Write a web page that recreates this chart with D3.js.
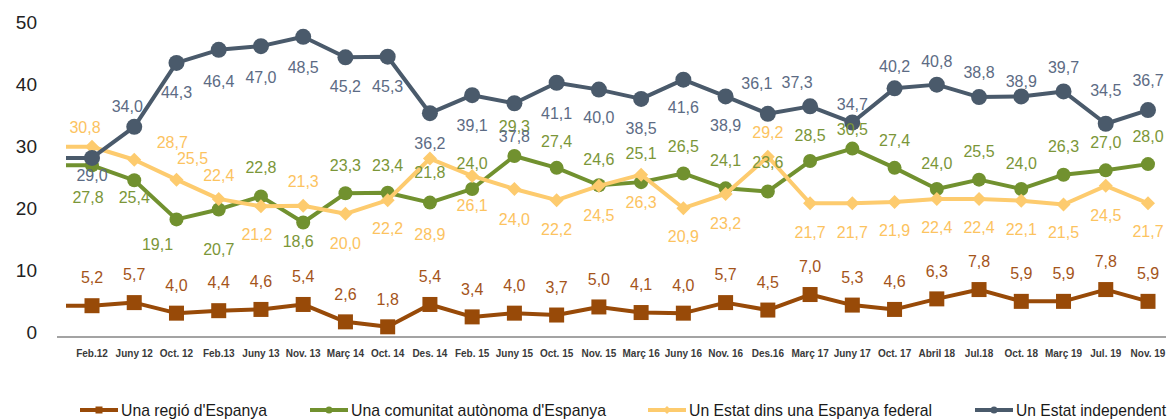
<!DOCTYPE html>
<html>
<head>
<meta charset="utf-8">
<script src="https://cdn.jsdelivr.net/npm/d3@7/dist/d3.min.js"></script>
<style>
  body { margin: 0; background: #fff; }
  svg { display: block; font-family: "Liberation Sans", Arial, sans-serif; }
</style>
</head>
<body>
<div class="viz"></div>
<script>
/* data */
var periods = ['Feb.12', 'Juny 12', 'Oct. 12', 'Feb.13', 'Juny 13', 'Nov. 13', 'Març 14', 'Oct. 14',
  'Des. 14', 'Feb. 15', 'Juny 15', 'Oct. 15', 'Nov. 15', 'Març 16', 'Juny 16', 'Nov. 16', 'Des.16',
  'Març 17', 'Juny 17', 'Oct. 17', 'Abril 18', 'Jul.18', 'Oct. 18', 'Març 19', 'Jul. 19', 'Nov. 19']

var regio = [5.2, 5.7, 4.0, 4.4, 4.6, 5.4, 2.6, 1.8, 5.4, 3.4, 4.0, 3.7, 5.0, 4.1, 4.0, 5.7, 4.5,
  7.0, 5.3, 4.6, 6.3, 7.8, 5.9, 5.9, 7.8, 5.9]
var comunitat = [27.8, 25.4, 19.1, 20.7, 22.8, 18.6, 23.3, 23.4, 21.8, 24.0, 29.3, 27.4, 24.6, 25.1,
  26.5, 24.1, 23.6, 28.5, 30.5, 27.4, 24.0, 25.5, 24.0, 26.3, 27.0, 28.0]
var federal = [30.8, 28.7, 25.5, 22.4, 21.2, 21.3, 20.0, 22.2, 28.9, 26.1, 24.0, 22.2, 24.5, 26.3,
  20.9, 23.2, 29.2, 21.7, 21.7, 21.9, 22.4, 22.4, 22.1, 21.5, 24.5, 21.7]
var independent = [29.0, 34.0, 44.3, 46.4, 47.0, 48.5, 45.2, 45.3, 36.2, 39.1, 37.8, 41.1, 40.0, 38.5,
  41.6, 38.9, 36.1, 37.3, 34.7, 40.2, 40.8, 38.8, 38.9, 39.7, 34.5, 36.7]

var yTicks = [0, 10, 20, 30, 40, 50]

/* label placement (layout only) */
var dyRegio = periods.map(function(){ return -28 })
var dyComunitat = [32, 17, 25, 40, -29, 19, -28, -27, -30, -26, -30, -27, -26, -29, -27, -28, -29,
  -26, -19, -28, -26, -28, -26, -28, -28, -28]
var dyFederal = [-19, -18, -21, -24, 28, -24, 29, 28, 76, 29, 30, 29, 29, 28, 28, 29, -24, 29, 29,
  28, 28, 28, 28, 28, 29, 28]
var dyIndependent = [17, -21, 29, 31, 31, 30, 29, 30, 30, 30, 33, 30, 28, 29, 28, 29, -31, -24, -18,
  -22, -23, -25, -15, -24, -34, -30]
var dxComunitat = {0: -4, 2: -19, 5: -5}
var dxFederal = {0: -7, 1: 38, 2: 16, 4: -4}
var dxIndependent = {1: -7, 16: -11, 17: -13}

var series = [
  {name: "Una regió d'Espanya", values: regio, color: '#984a08', label: '#a4541a',
    shape: 'square', dy: dyRegio, dx: {}},
  {name: "Una comunitat autònoma d'Espanya", values: comunitat, color: '#71912f', label: '#7b9638',
    shape: 'circle', dy: dyComunitat, dx: dxComunitat},
  {name: 'Un Estat dins una Espanya federal', values: federal, color: '#fdcb6e', label: '#fcc35f',
    shape: 'diamond', dy: dyFederal, dx: dxFederal},
  {name: 'Un Estat independent', values: independent, color: '#4a5a6b', label: '#5c6b84',
    shape: 'circleBig', dy: dyIndependent, dx: dxIndependent}
]

var width = 1175,
    height = 419

var svg = d3.select('.viz').append('svg')
  .attr('width', width)
  .attr('height', height)

var x = d3.scalePoint()
  .domain(periods)
  .range([92, 1148])

var y = d3.scaleLinear()
  .domain([0, 50])
  .range([338, 27.5])

// y axis labels (no gridlines)
svg.append('g')
  .selectAll('text')
  .data(yTicks)
  .enter()
  .append('text')
  .attr('x', 37)
  .attr('y', function(d){ return y(d) + 1 })
  .attr('text-anchor', 'end')
  .attr('font-size', '19px')
  .attr('fill', '#222')
  .text(function(d){ return d })

// baseline
svg.append('line')
  .attr('x1', 57).attr('x2', 1166)
  .attr('y1', 337).attr('y2', 337)
  .attr('stroke', '#a3a3a3')
  .attr('stroke-width', 2)

// x labels
svg.append('g')
  .selectAll('text')
  .data(periods)
  .enter()
  .append('text')
  .attr('x', function(d){ return x(d) })
  .attr('y', 357)
  .attr('text-anchor', 'middle')
  .attr('font-size', '10px')
  .attr('font-weight', 'bold')
  .attr('fill', '#3a3a3a')
  .text(function(d){ return d })

var line = d3.line()
  .x(function(d){ return d.x })
  .y(function(d){ return d.y })

function points(s){
  var pts = s.values.map(function(v, i){ return {x: x(periods[i]), y: y(v)} })
  // short lead-in stub on the left, as in the source chart
  pts.unshift({x: x.range()[0] - 26, y: pts[0].y})
  return pts
}

function drawMarker(g, shape, color, size){
  if(shape === 'square'){
    g.append('rect')
      .attr('x', -size / 2).attr('y', -size / 2)
      .attr('width', size).attr('height', size)
      .attr('fill', color)
  }else if(shape === 'diamond'){
    g.append('path')
      .attr('d', 'M0,' + (-size / 2) + 'L' + (size / 2) + ',0L0,' + (size / 2) + 'L' + (-size / 2) + ',0Z')
      .attr('fill', color)
  }else{
    g.append('circle')
      .attr('r', size / 2)
      .attr('fill', color)
  }
}

var markerSize = {square: 15, circle: 14, diamond: 14, circleBig: 16}

series.forEach(function(s){
  var g = svg.append('g')
  g.append('path')
    .attr('d', line(points(s)))
    .attr('fill', 'none')
    .attr('stroke', s.color)
    .attr('stroke-width', 4)
    .attr('stroke-linejoin', 'round')

  s.values.forEach(function(v, i){
    var m = g.append('g')
      .attr('transform', 'translate(' + x(periods[i]) + ',' + y(v) + ')')
    drawMarker(m, s.shape, s.color, markerSize[s.shape])
  })
})

// value labels
series.forEach(function(s){
  svg.append('g')
    .selectAll('text')
    .data(s.values)
    .enter()
    .append('text')
    .attr('x', function(d, i){ return x(periods[i]) + (s.dx[i] || 0) })
    .attr('y', function(d, i){ return y(d) + s.dy[i] })
    .attr('dy', '0.36em')
    .attr('text-anchor', 'middle')
    .attr('font-size', '16px')
    .attr('fill', s.label)
    .text(function(d){ return d.toFixed(1).replace('.', ',') })
})

// legend (narrow type, squeezed to the source widths)
var legendX = [80, 310, 648, 975]
var legendTextWidth = [146, 255, 243, 150]
var legend = svg.append('g')
  .selectAll('g')
  .data(series)
  .enter()
  .append('g')
  .attr('transform', function(d, i){ return 'translate(' + legendX[i] + ',410)' })

legend.append('line')
  .attr('x1', 0).attr('x2', 38)
  .attr('stroke', function(d){ return d.color })
  .attr('stroke-width', 4)

legend.each(function(d){
  var m = d3.select(this).append('g').attr('transform', 'translate(19,0)')
  drawMarker(m, d.shape, d.color, d.shape === 'diamond' ? 8 : 7)
})

legend.append('text')
  .attr('x', 41)
  .attr('y', 6)
  .attr('font-size', '17px')
  .attr('textLength', function(d, i){ return legendTextWidth[i] })
  .attr('lengthAdjust', 'spacingAndGlyphs')
  .attr('fill', '#1a1a1a')
  .text(function(d){ return d.name })
</script>
</body>
</html>
